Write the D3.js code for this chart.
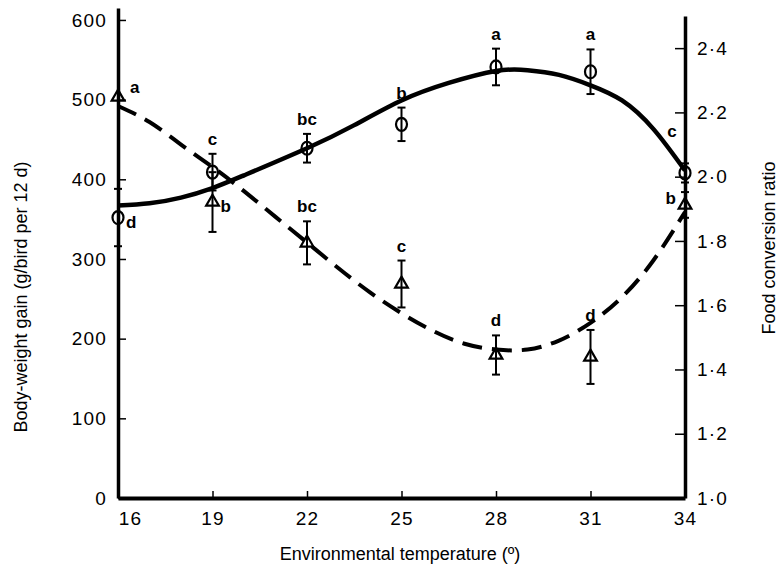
<!DOCTYPE html>
<html>
<head>
<meta charset="utf-8">
<script src="https://cdn.jsdelivr.net/npm/d3@7"></script>
<style>
  body { margin: 0; background: #fff; }
  svg { display: block; font-family: "Liberation Sans", Arial, sans-serif; }
</style>
</head>
<body>
<div id="chart"></div>
<script>
// measured points (means ± s.e.)
const temps = [16, 19, 22, 25, 28, 31, 34];
const gain = [352, 409, 439, 469, 541, 535, 408];
const gainErr = [36, 23, 18, 21, 23, 28, 12];
const gainLetters = ["d", "c", "bc", "b", "a", "a", "c"];
const gainLetterPos = ["right", "above", "above", "above", "above", "above", "upleft"];

const fcr = [2.248, 1.921, 1.794, 1.666, 1.445, 1.439, 1.912];
const fcrErr = [0, 0.093, 0.067, 0.073, 0.061, 0.084, 0.04];
const fcrLetters = ["a", "b", "bc", "c", "d", "d", "b"];
const fcrLetterPos = ["rightup", "right", "above", "above", "above", "above", "left"];

// fitted curves
const gainFitT = [16, 17, 18, 19, 20, 22, 23.5, 25, 26.5, 28, 29, 30, 31, 32, 33, 34];
const gainFit = [367, 370, 377, 389, 405, 439, 468, 499, 521, 536, 537, 531, 518, 499, 463, 411];
const fcrFitT = [16, 17, 18, 19, 20, 21, 22, 23, 24, 25, 26, 27, 28, 29, 30, 31, 32, 33, 34];
const fcrFit = [2.22, 2.17, 2.10, 2.03, 1.955, 1.875, 1.795, 1.715, 1.64, 1.575, 1.52, 1.48, 1.462, 1.462, 1.49, 1.545, 1.625, 1.74, 1.89];

// tick values
const xTicks = [16, 19, 22, 25, 28, 31, 34];
const yLeftTicks = [0, 100, 200, 300, 400, 500, 600];
const yRightTicks = [1.0, 1.2, 1.4, 1.6, 1.8, 2.0, 2.2, 2.4];

const W = 781, H = 569;

const svg = d3.select("#chart")
    .append("svg")
    .attr("width", W)
    .attr("height", H);

const x = d3.scaleLinear().domain([16, 34]).range([118, 685]);
const yL = d3.scaleLinear().domain([0, 615]).range([498, 8]);
const yR = d3.scaleLinear().domain([1.0, 2.5]).range([498, 16]);

//////////
// AXES //
//////////

const xAxis = svg.append("g")
    .attr("transform", `translate(0, ${yL(0)})`)
    .call(d3.axisBottom(x).tickValues(xTicks).tickSize(-7).tickSizeOuter(0).tickPadding(14));

const leftAxis = svg.append("g")
    .attr("transform", `translate(${x(16)}, 0)`)
    .call(d3.axisLeft(yL).tickValues(yLeftTicks).tickSize(-8).tickSizeOuter(0).tickPadding(11));

const rightAxis = svg.append("g")
    .attr("transform", `translate(${x(34)}, 0)`)
    .call(d3.axisRight(yR).tickValues(yRightTicks).tickSize(-10).tickSizeOuter(0).tickPadding(12)
        .tickFormat(d => d3.format(".1f")(d).replace(".", "\u00B7")));

[xAxis, leftAxis, rightAxis].forEach(g => {
    g.selectAll("text")
        .style("font-size", "19px")
        .style("letter-spacing", "1.2px")
        .attr("fill", "#000");
    g.selectAll(".tick line").attr("stroke", "#000").attr("stroke-width", 1.5);
});
xAxis.select(".domain").attr("stroke-width", 4).attr("stroke", "#000");
leftAxis.select(".domain").attr("stroke-width", 3.5).attr("stroke", "#000");
rightAxis.select(".domain").attr("stroke-width", 3.5).attr("stroke", "#000");
// first x label sits a bit right of the corner
xAxis.selectAll(".tick text").filter(d => d === 16).attr("dx", 12);

// axis titles
svg.append("text")
    .attr("x", 400)
    .attr("y", 560)
    .attr("text-anchor", "middle")
    .style("font-size", "18px")
    .text("Environmental temperature (\u00BA)");

svg.append("text")
    .attr("transform", "translate(27, 297) rotate(-90)")
    .attr("text-anchor", "middle")
    .style("font-size", "18px")
    .text("Body-weight gain (g/bird per 12 d)");

svg.append("text")
    .attr("transform", "translate(775, 248) rotate(-90)")
    .attr("text-anchor", "middle")
    .style("font-size", "18px")
    .text("Food conversion ratio");

////////////
// CURVES //
////////////

const gainLine = d3.line()
    .x((d, i) => x(gainFitT[i]))
    .y(d => yL(d))
    .curve(d3.curveNatural);

svg.append("path")
    .attr("d", gainLine(gainFit))
    .attr("fill", "none")
    .attr("stroke", "#000")
    .attr("stroke-width", 4.5);

const fcrLine = d3.line()
    .x((d, i) => x(fcrFitT[i]))
    .y(d => yR(d))
    .curve(d3.curveNatural);

svg.append("path")
    .attr("d", fcrLine(fcrFit))
    .attr("fill", "none")
    .attr("stroke", "#000")
    .attr("stroke-width", 4)
    .attr("stroke-dasharray", "20,10");

////////////
// POINTS //
////////////

function errorBars(vals, errs, y) {
    const g = svg.append("g").attr("stroke", "#000").attr("stroke-width", 2);
    vals.forEach((v, i) => {
        if (!errs[i]) return;
        const cx = x(temps[i]);
        const top = y(v + errs[i]), bot = y(v - errs[i]);
        g.append("line").attr("x1", cx).attr("x2", cx).attr("y1", top).attr("y2", bot);
        g.append("line").attr("x1", cx - 4).attr("x2", cx + 4).attr("y1", top).attr("y2", top);
        g.append("line").attr("x1", cx - 4).attr("x2", cx + 4).attr("y1", bot).attr("y2", bot);
    });
}

function letters(vals, errs, labels, pos, y) {
    labels.forEach((t, i) => {
        const cx = x(temps[i]), cy = y(vals[i]);
        const top = y(vals[i] + errs[i]);
        let tx = cx, ty = top - 9, anchor = "middle";
        if (pos[i] === "right") { tx = cx + 8; ty = cy + 10; anchor = "start"; }
        if (pos[i] === "rightup") { tx = cx + 12; ty = cy - 4; anchor = "start"; }
        if (pos[i] === "left") { tx = cx - 9; ty = cy - 1; anchor = "end"; }
        if (pos[i] === "upleft") { tx = cx - 13; ty = cy - 36; }
        svg.append("text")
            .attr("x", tx)
            .attr("y", ty)
            .attr("text-anchor", anchor)
            .style("font-size", "17px")
            .style("font-weight", "bold")
            .text(t);
    });
}

errorBars(gain, gainErr, yL);
errorBars(fcr, fcrErr, yR);

svg.selectAll("ellipse.gain")
    .data(gain)
    .join("ellipse")
    .attr("class", "gain")
    .attr("cx", (d, i) => x(temps[i]))
    .attr("cy", d => yL(d))
    .attr("rx", 5.5)
    .attr("ry", 6.5)
    .attr("fill", "none")
    .attr("stroke", "#000")
    .attr("stroke-width", 2.2);

svg.selectAll("path.fcr")
    .data(fcr)
    .join("path")
    .attr("class", "fcr")
    .attr("transform", (d, i) => `translate(${x(temps[i])}, ${yR(d)})`)
    .attr("d", d3.symbol(d3.symbolTriangle, 70))
    .attr("fill", "none")
    .attr("stroke", "#000")
    .attr("stroke-width", 2.2);

letters(gain, gainErr, gainLetters, gainLetterPos, yL);
letters(fcr, fcrErr, fcrLetters, fcrLetterPos, yR);
</script>
</body>
</html>
